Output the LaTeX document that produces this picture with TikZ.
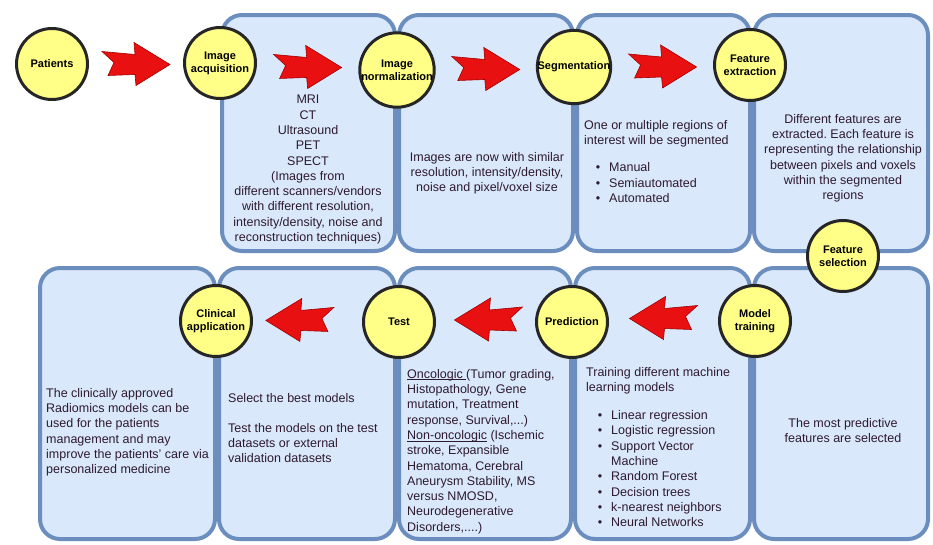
\documentclass[tikz,border=0pt]{standalone}
\usepackage{fontspec}
\setmainfont{Liberation Sans}
\frenchspacing
\definecolor{boxfill}{HTML}{DAE8FC}
\definecolor{boxline}{HTML}{6C8EBF}
\definecolor{stagefill}{HTML}{FFFF88}
\definecolor{arrowred}{HTML}{E81010}
\definecolor{arrowline}{HTML}{A00000}
\definecolor{txt}{HTML}{2E1A2E}
\newcommand{\itm}{\makebox[25pt][r]{\textbullet\hspace{9pt}}}
\newcommand{\itc}{\hspace{25pt}}
\newcommand{\undl}[1]{\setbox0\hbox{#1}\rlap{\rule[-1.8pt]{\wd0}{0.6pt}}\box0\relax}
\tikzset{
  box/.style={draw=boxline, fill=boxfill, line width=4pt, rounded corners=20pt},
  stage/.style={circle, draw=black!85, fill=stagefill, line width=3pt, minimum size=71pt, inner sep=0pt, align=center, font=\fontsize{11}{13}\selectfont\bfseries},
  body/.style={inner sep=0pt, text=txt, font=\fontsize{12.5}{15.3}\selectfont},
  fatarrow/.pic={\draw[fill=arrowred, draw=arrowline, line width=0.6pt] (-34,-12) -- (-1,-9) -- (-2,-21) -- (34,1) -- (0,22) -- (-1,11) -- (-28,12) -- (-22,-1) -- cycle;}
}
\begin{document}
\begin{tikzpicture}[x=1pt, y=-1pt]
        \useasboundingbox (0,0) rectangle (933,544);

        \draw[box] (222,15) rectangle (395,251);
        \draw[box] (399,15) rectangle (573,251);
        \draw[box] (577,15) rectangle (750,251);
        \draw[box] (754,15) rectangle (928,251);

        \draw[box] (40,268) rectangle (215,539);
        \draw[box] (219,268) rectangle (395,539);
        \draw[box] (399,268) rectangle (571,539);
        \draw[box] (575,268) rectangle (750,539);
        \draw[box] (754,268) rectangle (928,539);

        \node[stage] (pat) at (52,64) {Patients};
        \node[stage] (acq) at (220,63) {Image\\acquisition};
        \node[stage] (norm) at (397,70) {Image\\normalization};
        \node[stage] (seg) at (574,67) {Segmentation};
        \node[stage] (fext) at (750,65) {Feature\\extraction};
        \node[stage] (fsel) at (843,256) {Feature\\selection};
        \node[stage] (train) at (755,321) {Model\\training};
        \node[stage] (pred) at (572,322) {Prediction};
        \node[stage] (test) at (399,322) {Test};
        \node[stage] (clin) at (216,321) {Clinical\\application};

        \path (pat) -- (acq) pic[pos=0.5] {fatarrow};
        \path (acq) -- (norm) pic[pos=0.5] {fatarrow};
        \path (norm) -- (seg) pic[pos=0.5] {fatarrow};
        \path (seg) -- (fext) pic[pos=0.5] {fatarrow};
        \path (train) -- (pred) pic[pos=0.5, xscale=-1, yshift=4pt] {fatarrow};
        \path (pred) -- (test) pic[pos=0.47, xscale=-1, yshift=3pt] {fatarrow};
        \path (test) -- (clin) pic[pos=0.57, xscale=-1, yshift=2pt] {fatarrow};

        \node[body, align=center, anchor=north] (acqtxt) at (308,95) {MRI\\CT\\Ultrasound\\PET\\SPECT\\(Images from\\different scanners/vendors\\with different resolution,\\intensity/density, noise and\\reconstruction techniques)};
        \node[body, align=center, anchor=north] (normtxt) at (487,152) {Images are now with similar\\resolution, intensity/density,\\noise and pixel/voxel size};
        \node[body, align=left, anchor=north west] (segtxt) at (584,120) {One or multiple regions of\\interest will be segmented\\[12pt]\itm Manual\\\itm Semiautomated\\\itm Automated};
        \node[body, align=center, anchor=north] (fexttxt) at (843,114) {Different features are\\extracted. Each feature is\\representing the relationship\\between pixels and voxels\\within the segmented\\regions};

        \node[body, align=left, anchor=north west] (clintxt) at (46,388) {The clinically approved\\Radiomics models can be\\used for the patients\\management and may\\improve the patients' care via\\personalized medicine};
        \node[body, align=left, anchor=north west] (testtxt) at (228,393) {Select the best models\\[14.7pt]Test the models on the test\\datasets or external\\validation datasets};
        \node[body, align=left, anchor=north west] (predtxt) at (407,369) {\undl{Oncologic }(Tumor grading,\\Histopathology, Gene\\mutation, Treatment\\response, Survival,...)\\\undl{Non-oncologic} (Ischemic\\stroke, Expansible\\Hematoma, Cerebral\\Aneurysm Stability, MS\\versus NMOSD,\\Neurodegenerative\\Disorders,....)};
        \node[body, align=left, anchor=north west] (traintxt) at (586,367) {Training different machine\\learning models\\[12.7pt]\itm Linear regression\\\itm Logistic regression\\\itm Support Vector\\\itc Machine\\\itm Random Forest\\\itm Decision trees\\\itm k-nearest neighbors\\\itm Neural Networks};
        \node[body, align=center, anchor=north] (fseltxt) at (843,418) {The most predictive\\features are selected};

    \end{tikzpicture}
\end{document}
